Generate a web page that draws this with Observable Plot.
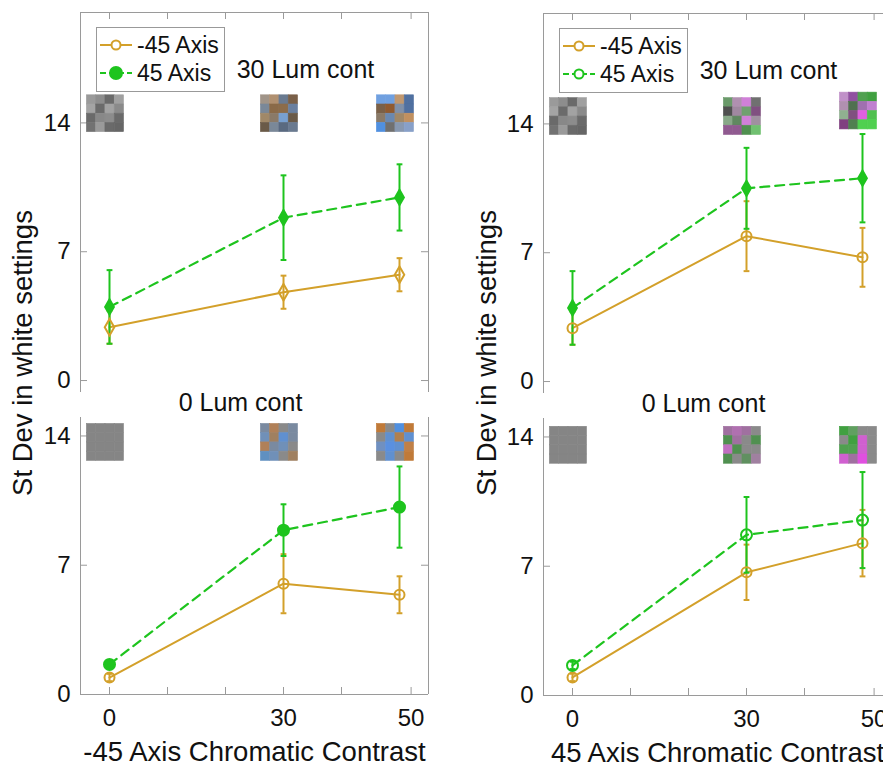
<!DOCTYPE html>
<html><head><meta charset="utf-8">
<script src="https://cdn.jsdelivr.net/npm/d3@7"></script>
<script src="https://cdn.jsdelivr.net/npm/@observablehq/plot@0.6"></script>
<style>
body{margin:0;background:#fff;font-family:"Liberation Sans",Arial,sans-serif;}
#wrap{position:relative;width:883px;height:767px;overflow:hidden;background:#fff;}
.panel{position:absolute;}
.ylab{position:absolute;font-size:27.5px;white-space:nowrap;transform:translate(-50%,-50%) rotate(-90deg);color:#111;}
.legend{position:absolute;}
</style></head><body><div id="wrap"></div>
<script>
// ---------- data ----------
const contrastLevels = [0, 30, 50];
const xTickPositions = [0, 10, 20, 30, 40, 52];
const xTickLabels = ["0", "", "", "30", "", "50"];
const yTicks = [0, 7, 14];
const seriesNames = ["-45 Axis", "45 Axis"];
const lumTitles = ["30 Lum cont", "0 Lum cont"];
const yLabel = "St Dev in white settings";
const xLabels = ["-45 Axis Chromatic Contrast", "45 Axis Chromatic Contrast"];

// top-left: -45 axis chromatic, 30 lum
const tlNeg45Mean = [2.9, 4.8, 5.75];
const tlNeg45Err  = [0.9, 0.9, 0.9];
const tl45Mean    = [4.0, 8.85, 9.95];
const tl45Err     = [2.0, 2.3, 1.8];
// top-right: 45 axis chromatic, 30 lum
const trNeg45Mean = [2.9, 7.9, 6.75];
const trNeg45Err  = [0.9, 1.9, 1.6];
const tr45Mean    = [4.0, 10.5, 11.05];
const tr45Err     = [2.0, 2.2, 2.4];
// bottom-left: -45 axis chromatic, 0 lum
const blNeg45Mean = [0.92, 6.0, 5.4];
const blNeg45Err  = [0.2, 1.6, 1.0];
const bl45Mean    = [1.63, 8.9, 10.15];
const bl45Err     = [0.2, 1.4, 2.2];
// bottom-right: 45 axis chromatic, 0 lum
const brNeg45Mean = [0.98, 6.67, 8.25];
const brNeg45Err  = [0.2, 1.5, 1.8];
const br45Mean    = [1.63, 8.7, 9.5];
const br45Err     = [0.2, 2.05, 2.6];

// stimulus patches (4x4 cells, row-major from top)
const grayPatch = ["#9a9a9a","#8d8d8d","#6a6a6a","#a0a0a0","#a4a4a4","#6b6b6b","#a2a2a2","#8a8a8a","#6a6a6a","#888888","#8c8c8c","#6a6a6a","#727272","#9a9a9a","#6a6a6a","#666666"];
const tlPatch30 = ["#a09488","#b09070","#6a7a90","#7a6048","#7a8898","#8a6a48","#8c6c4a","#6a80a0","#a08868","#8a7a68","#78a0d0","#6a5a48","#6a5a48","#7a8898","#5a6a80","#6a7a90"];
const tlPatch50 = ["#70a0e0","#70a0e0","#c09870","#5070a0","#7a6048","#905a30","#8090a8","#5070a0","#8a7a68","#6a88b0","#a08868","#c09060","#5090e0","#707070","#8898b0","#88a0c8"];
const trPatch30 = ["#6a9a6a","#b090b0","#d080d8","#707070","#505050","#a088a0","#70a070","#805080","#88a888","#608860","#d080d8","#a090a0","#905a90","#905a90","#509050","#70c070"];
const trPatch50 = ["#c090c8","#9050a0","#50a050","#40a040","#b090b0","#507050","#a070b0","#c080d0","#90b090","#805080","#e060e0","#50c050","#804080","#508050","#50d050","#50d050"];
const flatPatch = ["#858585","#858585","#858585","#858585","#858585","#858585","#858585","#858585","#858585","#858585","#858585","#858585","#858585","#858585","#858585","#858585"];
const blPatch30 = ["#7a8aa0","#b08058","#8a8a8a","#7a8aa0","#7090b8","#a08060","#6090d0","#7a8aa0","#b08058","#7a8aa0","#7090b8","#8a8a8a","#6090c0","#7090b8","#8a8a8a","#a08060"];
const blPatch50 = ["#c07a38","#8a8a8a","#5090e0","#c07a38","#8a8a8a","#6090d0","#b08050","#6090d0","#7090c0","#5a90e0","#6090d0","#c08048","#8a8a8a","#6090d0","#8a8a8a","#c07a38"];
const brPatch30 = ["#a070a0","#b070b0","#a070a0","#8a8a8a","#509050","#a070a0","#8a8a8a","#509050","#c070c0","#509050","#8a8a8a","#8a8a8a","#509050","#8a8a8a","#609060","#a080a0"];
const brPatch50 = ["#40a040","#60a060","#8a8a8a","#8a8a8a","#8a8a8a","#40a040","#d060d0","#8a8a8a","#50a050","#50a050","#d060d0","#8a8a8a","#d060d0","#a070a0","#e050e0","#8a8a8a"];

// ---------- styling ----------
const GOLD = "#d3a02a", GREEN = "#1ec41e", FRAME = "#9a9a9a", INK = "#111";
const FONT = "'Liberation Sans', Arial, sans-serif";
const xDomain = [-5, 55];

function rows(means, errs) {
  return contrastLevels.map((c, i) => ({x: c, mean: means[i], err: errs[i]}));
}
function patchCells(patches, bases) {
  const cells = [];
  patches.forEach((colors, j) => {
    const cx = contrastLevels[j] - 0.7, base = bases[j];
    colors.forEach((col, k) => {
      const r = Math.floor(k / 4), c = k % 4;
      cells.push({x1: cx - 3.2 + c * 1.6, x2: cx - 3.2 + (c + 1) * 1.6,
                  y1: base + (3 - r) * 0.5, y2: base + (4 - r) * 0.5, color: col});
    });
  });
  return cells;
}

function panel(o) {
  const W = 440, ML = 80, MR = 12;
  const fw = W - ML - MR;
  const fh = o.height - o.mt - o.mb;
  const gold = rows(o.gMean, o.gErr), green = rows(o.nMean, o.nErr);
  const errMarks = (data, color) => [
    Plot.ruleX(data, {x: "x", y1: d => d.mean - d.err, y2: d => d.mean + d.err, stroke: color, strokeWidth: 2}),
    Plot.link(data, {x1: d => d.x - 0.5, x2: d => d.x + 0.5, y1: d => d.mean + d.err, y2: d => d.mean + d.err, stroke: color, strokeWidth: 2}),
    Plot.link(data, {x1: d => d.x - 0.5, x2: d => d.x + 0.5, y1: d => d.mean - d.err, y2: d => d.mean - d.err, stroke: color, strokeWidth: 2})
  ];
  const marks = [
    Plot.ruleX(xDomain, {stroke: FRAME, strokeWidth: 1}),
    o.isTop ? Plot.ruleY([o.yDomain[1]], {stroke: FRAME}) : Plot.ruleY([o.yDomain[0]], {stroke: FRAME}),
    o.isTop
      ? Plot.tickX(xTickPositions, {x: d => d, stroke: FRAME, insetBottom: fh - 7})
      : Plot.tickX(xTickPositions, {x: d => d, stroke: FRAME, insetTop: fh - 7}),
    Plot.tickY(yTicks, {y: d => d, stroke: FRAME, insetRight: fw - 7}),
    Plot.tickY(yTicks, {y: d => d, stroke: FRAME, insetLeft: fw - 7}),
    Plot.axisY(yTicks, {tickSize: 0, tickPadding: 10, fontSize: 24, fill: INK, label: null}),
    Plot.rect(patchCells(o.patches, o.patchBases), {x1: "x1", x2: "x2", y1: "y1", y2: "y2", fill: "color", stroke: "color", strokeWidth: 0.6}),
    Plot.line(gold, {x: "x", y: "mean", stroke: GOLD, strokeWidth: 2}),
    Plot.line(green, {x: "x", y: "mean", stroke: GREEN, strokeWidth: 2.2, strokeDasharray: "9,6"}),
    ...errMarks(gold, GOLD),
    ...errMarks(green, GREEN),
    Plot.dot(gold, {x: "x", y: "mean", r: 5, symbol: o.gSymbol, stroke: GOLD, strokeWidth: 2, fill: "none"}),
    Plot.dot(green, {x: "x", y: "mean", r: o.nR, symbol: o.nSymbol, stroke: GREEN, strokeWidth: 2, fill: o.nFilled ? GREEN : "none"}),
    Plot.text([o.title], {frameAnchor: "top", lineAnchor: "middle", dx: o.tdx, dy: o.tdy, fontSize: 25, fill: INK})
  ];
  if (!o.isTop) {
    const lab = new Map(xTickPositions.map((p, i) => [p, xTickLabels[i]]));
    marks.push(Plot.axisX(xTickPositions, {tickSize: 0, tickPadding: 14, fontSize: 24, fill: INK, label: null, tickFormat: d => lab.get(d)}));
    marks.push(Plot.text([o.xLabel], {frameAnchor: "bottom", lineAnchor: "middle", dy: 58, fontSize: 27.5, fill: INK}));
  }
  const svg = Plot.plot({
    width: W, height: o.height,
    marginLeft: ML, marginRight: MR, marginTop: o.mt, marginBottom: o.mb,
    style: {fontFamily: FONT, fontSize: "24px", background: "transparent", overflow: "visible"},
    x: {type: "linear", domain: xDomain, axis: o.isTop ? null : undefined},
    y: {domain: o.yDomain},
    marks
  });
  svg.classList.add("panel");
  svg.style.left = o.left + "px";
  svg.style.top = o.top + "px";
  svg.style.maxWidth = "none";
  return svg;
}

const wrap = document.getElementById("wrap");
const panels = [
  {left: 0, top: 0, height: 400, mt: 12, mb: 8, isTop: true, yDomain: [-0.65, 20],
   gMean: tlNeg45Mean, gErr: tlNeg45Err, nMean: tl45Mean, nErr: tl45Err,
   gSymbol: "diamond", nSymbol: "diamond", nR: 4.6, nFilled: true,
   patches: [grayPatch, tlPatch30, tlPatch50], patchBases: [13.5, 13.5, 13.5],
   title: lumTitles[0], tdx: 51, tdy: 57},
  {left: 463, top: 1, height: 400, mt: 12, mb: 8, isTop: true, yDomain: [-0.65, 20],
   gMean: trNeg45Mean, gErr: trNeg45Err, nMean: tr45Mean, nErr: tr45Err,
   gSymbol: "circle", nSymbol: "diamond", nR: 4.6, nFilled: true,
   patches: [grayPatch, trPatch30, trPatch50], patchBases: [13.4, 13.4, 13.7],
   title: lumTitles[0], tdx: 51, tdy: 57},
  {left: 0, top: 387, height: 380, mt: 30, mb: 73, isTop: false, yDomain: [0, 15],
   gMean: blNeg45Mean, gErr: blNeg45Err, nMean: bl45Mean, nErr: bl45Err,
   gSymbol: "circle", nSymbol: "circle", nR: 5.5, nFilled: true,
   patches: [flatPatch, blPatch30, blPatch50], patchBases: [12.65, 12.65, 12.65],
   title: lumTitles[1], tdx: -14, tdy: -15, xLabel: xLabels[0]},
  {left: 463, top: 388, height: 380, mt: 30, mb: 73, isTop: false, yDomain: [0, 15],
   gMean: brNeg45Mean, gErr: brNeg45Err, nMean: br45Mean, nErr: br45Err,
   gSymbol: "circle", nSymbol: "circle", nR: 5.5, nFilled: false,
   patches: [flatPatch, brPatch30, brPatch50], patchBases: [12.55, 12.55, 12.55],
   title: lumTitles[1], tdx: -14, tdy: -15, xLabel: xLabels[1]}
];
panels.forEach(p => wrap.appendChild(panel(p)));

// y labels
[[23, 353], [487, 353]].forEach(([x, y]) => {
  const d = document.createElement("div");
  d.className = "ylab"; d.textContent = yLabel;
  d.style.left = x + "px"; d.style.top = y + "px";
  wrap.appendChild(d);
});

// legends
function legend(left, top, greenFilled) {
  const svg = d3.create("svg").attr("width", 130).attr("height", 66)
    .attr("class", "legend").style("left", left + "px").style("top", top + "px")
    .style("font-family", FONT);
  svg.append("rect").attr("x", 0.5).attr("y", 0.5).attr("width", 128).attr("height", 64)
    .attr("fill", "#fff").attr("stroke", "#999");
  const entries = [
    {name: seriesNames[0], color: GOLD, dash: null, filled: false, r: 4.5},
    {name: seriesNames[1], color: GREEN, dash: "6,3", filled: greenFilled, r: greenFilled ? 6 : 4.5}
  ];
  entries.forEach((e, i) => {
    const y = 18 + i * 28;
    svg.append("line").attr("x1", 4).attr("x2", 36).attr("y1", y).attr("y2", y)
      .attr("stroke", e.color).attr("stroke-width", 2).attr("stroke-dasharray", e.dash);
    svg.append("circle").attr("cx", 20).attr("cy", y).attr("r", e.r)
      .attr("stroke", e.color).attr("stroke-width", 2).attr("fill", e.filled ? e.color : "#fff");
    svg.append("text").attr("x", 41).attr("y", y).attr("dy", "0.35em")
      .attr("font-size", 23).attr("fill", INK).text(e.name);
  });
  wrap.appendChild(svg.node());
}
legend(96, 27, true);
legend(559, 28, false);
</script></body></html>
